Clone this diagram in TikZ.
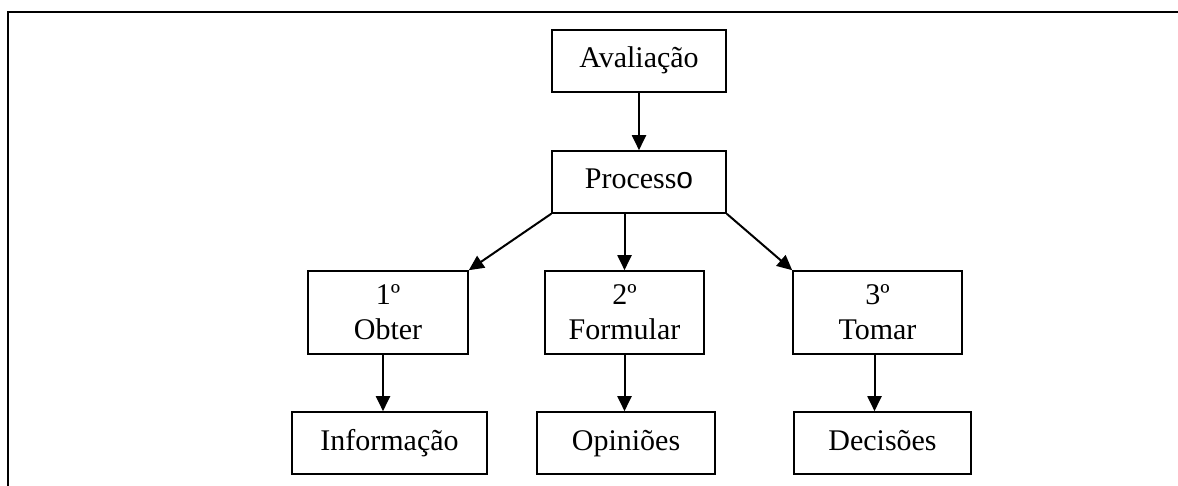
\documentclass[tikz,border=0pt]{standalone}
\usepackage{fontspec}
\setmainfont{Liberation Serif}
\newfontfamily\arialfont{Liberation Sans}
\usetikzlibrary{arrows.meta,calc}
\begin{document}
\begin{tikzpicture}[x=0.5pt,y=-0.5pt,
  box/.style={draw,line width=0.8pt,inner sep=0pt,align=center,
    font=\fontsize{15}{17.5}\selectfont},
  one/.style={box,text height=10.5pt,text depth=3.5pt,minimum height=31pt},
  arr/.style={line width=1pt,-{Triangle[length=7.5pt,width=7pt]}}]
\useasboundingbox (0,0) rectangle (1178,486);
\draw[line width=1pt] (8,486) -- (8,12) -- (1178,12);
\node[one,minimum width=87pt] (aval) at (639,61) {Avaliação};
\node[one,minimum width=87pt] (proc) at (639,182) {Process{\arialfont o}};
\node[box,minimum width=80pt,minimum height=41.5pt] (obter) at (388,312.5) {1º\\Obter};
\node[box,minimum width=79.5pt,minimum height=41.5pt] (form) at (624.5,312.5) {2º\\Formular};
\node[box,minimum width=84.5pt,minimum height=41.5pt] (tomar) at (877.5,312.5) {3º\\Tomar};
\node[one,minimum width=97.5pt] (info) at (389.5,443) {Informação};
\node[one,minimum width=89pt] (opin) at (626,443) {Opiniões};
\node[one,minimum width=88.5pt] (dec) at (882.5,443) {Decisões};
\draw[arr] (aval.south) -- (proc.north);
\draw[arr] (proc.south west) -- (obter.north east);
\draw[arr] (proc.south -| form.north) -- (form.north);
\draw[arr] (proc.south east) -- (tomar.north west);
\draw[arr] ($(obter.south)+(-5,0)$) -- ($(obter.south |- info.north)+(-5,0)$);
\draw[arr] (form.south) -- (form.south |- opin.north);
\draw[arr] ($(tomar.south)+(-3,0)$) -- ($(tomar.south |- dec.north)+(-3,0)$);
\end{tikzpicture}
\end{document}
